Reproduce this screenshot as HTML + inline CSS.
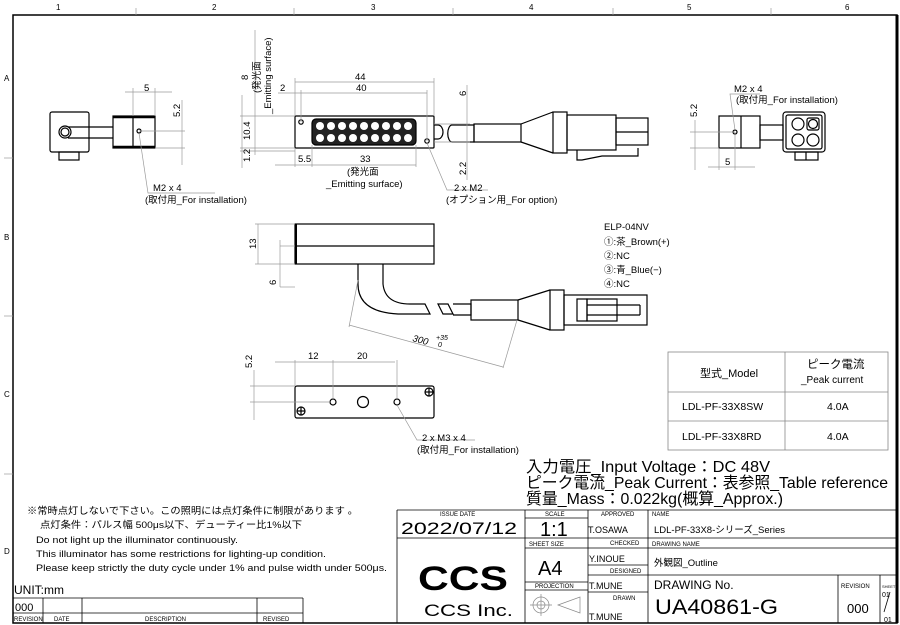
<!DOCTYPE html>
<html><head><meta charset="utf-8"><style>
html,body{margin:0;padding:0;background:#fff;width:900px;height:625px;overflow:hidden}
svg{display:block}
text{font-family:"Liberation Sans","Noto Sans CJK JP",sans-serif;fill:#000}
.d{stroke:#9a9a9a;stroke-width:.7;fill:none}
.k{stroke:#000;stroke-width:1.2;fill:none}
.t{font-size:9.5px}
</style></head><body>
<svg width="900" height="625" viewBox="0 0 900 625" xmlns="http://www.w3.org/2000/svg">
<!-- frame -->
<rect x="13" y="15" width="884" height="608" fill="none" stroke="#000" stroke-width="1.5"/>
<line x1="897" y1="15" x2="897" y2="623" stroke="#000" stroke-width="3"/>
<g class="d"><line x1="136" y1="8" x2="136" y2="15"/><line x1="294" y1="8" x2="294" y2="15"/><line x1="453" y1="8" x2="453" y2="15"/><line x1="613" y1="8" x2="613" y2="15"/><line x1="771" y1="8" x2="771" y2="15"/>
<line x1="4" y1="158" x2="13" y2="158"/><line x1="4" y1="316" x2="13" y2="316"/><line x1="4" y1="474" x2="13" y2="474"/></g>
<g style="font-size:8px"><text x="56" y="10">1</text><text x="212" y="10">2</text><text x="371" y="10">3</text><text x="529" y="10">4</text><text x="687" y="10">5</text><text x="845" y="10">6</text>
<text x="4" y="81">A</text><text x="4" y="240">B</text><text x="4" y="397">C</text><text x="4" y="554">D</text></g>

<!-- left end view -->
<g class="k">
<rect x="50" y="112" width="39" height="40" rx="2"/>
<rect x="59" y="152" width="20" height="8"/>
<circle cx="65" cy="132" r="6"/><circle cx="65" cy="132" r="4"/>
<line x1="68" y1="127" x2="113" y2="127"/><line x1="68" y1="138" x2="113" y2="138"/>
<rect x="113" y="116" width="42" height="32"/><line x1="133" y1="116" x2="133" y2="148"/>
<line x1="113" y1="117" x2="155" y2="117" stroke-width="2.5"/><line x1="113" y1="147" x2="155" y2="147" stroke-width="2.5"/>
<circle cx="139" cy="131" r="2"/>
</g>
<g class="d"><line x1="133" y1="88" x2="133" y2="116"/><line x1="155" y1="88" x2="155" y2="116"/><line x1="125" y1="92" x2="172" y2="92"/>
<line x1="139" y1="131" x2="185" y2="131"/><line x1="155" y1="148" x2="185" y2="148"/><line x1="182" y1="100" x2="182" y2="165"/>
<polyline points="139,133 148,193 215,193"/></g>
<text x="144" y="91" class="t">5</text>
<text x="0" y="0" class="t" transform="translate(180,117) rotate(-90)">5.2</text>
<text x="153" y="191" class="t">M2 x 4</text>
<text x="145" y="203" class="t">(取付用_For installation)</text>

<!-- main top view -->
<g class="k">
<rect x="295" y="116" width="139" height="32" rx="1"/>
<rect x="312" y="119" width="104" height="26" rx="4" fill="#222"/>
<circle cx="301" cy="122" r="2.2"/><circle cx="427" cy="141" r="2.2"/>
</g>
<g fill="#fff" stroke="none">
<circle cx="320" cy="126" r="4"/><circle cx="331" cy="126" r="4"/><circle cx="342" cy="126" r="4"/><circle cx="353" cy="126" r="4"/><circle cx="364" cy="126" r="4"/><circle cx="375" cy="126" r="4"/><circle cx="386" cy="126" r="4"/><circle cx="397" cy="126" r="4"/><circle cx="408" cy="126" r="4"/>
<circle cx="320" cy="138" r="4"/><circle cx="331" cy="138" r="4"/><circle cx="342" cy="138" r="4"/><circle cx="353" cy="138" r="4"/><circle cx="364" cy="138" r="4"/><circle cx="375" cy="138" r="4"/><circle cx="386" cy="138" r="4"/><circle cx="397" cy="138" r="4"/><circle cx="408" cy="138" r="4"/>
</g>
<g class="k">
<path d="M434,125 h4 a5,7 0 0 1 0,14 h-4"/>
<path d="M452,125 h22 v17 h-22 a4,8 0 0 1 0,-17z"/>
<rect x="474" y="124" width="47" height="18"/>
<path d="M521,124 L553,112 M521,142 L553,153"/>
<rect x="553" y="112" width="14" height="41"/>
<rect x="567" y="115" width="49" height="35"/>
<rect x="616" y="118" width="32" height="27"/><line x1="616" y1="132" x2="648" y2="132"/>
<path d="M577,150 v10 h5 l20,-4 h36 v-8"/>
</g>
<g class="d">
<line x1="295" y1="78" x2="295" y2="116"/><line x1="434" y1="78" x2="434" y2="116"/><line x1="295" y1="82" x2="434" y2="82"/>
<line x1="301" y1="90" x2="301" y2="122"/><line x1="427" y1="90" x2="427" y2="141"/><line x1="278" y1="93" x2="427" y2="93"/>
<line x1="255" y1="30" x2="255" y2="155"/>
<line x1="240" y1="116" x2="295" y2="116"/><line x1="240" y1="148" x2="295" y2="148"/><line x1="242" y1="95" x2="242" y2="168"/>
<line x1="240" y1="151" x2="295" y2="151"/>
<line x1="295" y1="148" x2="295" y2="167"/><line x1="312" y1="145" x2="312" y2="167"/><line x1="416" y1="145" x2="416" y2="167"/><line x1="275" y1="165" x2="416" y2="165"/>
<line x1="467" y1="85" x2="467" y2="180"/><line x1="434" y1="124" x2="470" y2="124"/><line x1="434" y1="142" x2="470" y2="142"/>
<polyline points="427,143 447,190 488,190"/></g>
<text x="355" y="80" class="t">44</text><text x="356" y="91" class="t">40</text><text x="280" y="91" class="t">2</text>
<text x="298" y="162" class="t">5.5</text><text x="360" y="162" class="t">33</text>
<text x="347" y="175" class="t">(発光面</text><text x="326" y="187" class="t">_Emitting surface)</text>
<text class="t" transform="translate(250,140) rotate(-90)">10.4</text>
<text class="t" transform="translate(250,162) rotate(-90)">1.2</text>
<text class="t" transform="translate(248,80) rotate(-90)">8</text>
<text class="t" transform="translate(260,93) rotate(-90)">(発光面</text>
<text class="t" transform="translate(271,114) rotate(-90)">_Emitting surface)</text>
<text class="t" transform="translate(466,96) rotate(-90)">6</text>
<text class="t" transform="translate(466,175) rotate(-90)">2.2</text>
<text x="454" y="191" class="t">2 x M2</text>
<text x="446" y="203" class="t">(オプション用_For option)</text>

<!-- right end view -->
<g class="k">
<rect x="719" y="116" width="41" height="32"/><line x1="741" y1="116" x2="741" y2="148"/>
<circle cx="735" cy="132" r="2"/>
<rect x="760" y="125" width="23" height="15"/>
<rect x="783" y="112" width="42" height="40" rx="3"/><rect x="786" y="115" width="36" height="34" rx="2"/>
<rect x="795" y="152" width="23" height="8"/><line x1="806" y1="152" x2="806" y2="160"/>
<circle cx="798" cy="124" r="6"/><rect x="807" y="118" width="12" height="12" rx="2"/><circle cx="813" cy="124" r="4.5"/>
<circle cx="798" cy="140" r="6"/><circle cx="813" cy="140" r="6"/>
</g>
<g class="d"><line x1="690" y1="132" x2="735" y2="132"/><line x1="690" y1="148" x2="719" y2="148"/><line x1="695" y1="120" x2="695" y2="170"/>
<line x1="719" y1="148" x2="719" y2="170"/><line x1="735" y1="132" x2="735" y2="170"/><line x1="708" y1="167" x2="755" y2="167"/>
<polyline points="735,130 730,94 760,94"/></g>
<text class="t" transform="translate(697,117) rotate(-90)">5.2</text>
<text x="725" y="165" class="t">5</text>
<text x="734" y="92" class="t">M2 x 4</text>
<text x="736" y="103" class="t">(取付用_For installation)</text>

<!-- side view -->
<g class="k">
<rect x="295" y="224" width="139" height="40"/><line x1="295" y1="246" x2="434" y2="246"/>
<line x1="296" y1="224" x2="296" y2="264" stroke-width="2"/>
<path d="M358,264 v20 q0,28 40,30 h32 l-5,-10 h-15 q-25,0 -27,-20 v-20"/>
<path d="M438,304 h10 l5,10 h-10z"/>
<path d="M453,304 h18 v11 h-18"/>
<rect x="471" y="300" width="47" height="20"/>
<path d="M518,300 L550,290 M518,320 L550,330"/>
<rect x="550" y="290" width="14" height="40"/>
<rect x="564" y="295" width="83" height="30"/>
<rect x="577" y="299" width="10" height="22"/><rect x="587" y="299" width="30" height="22"/>
<line x1="587" y1="305" x2="640" y2="305"/><line x1="587" y1="315" x2="640" y2="315"/><line x1="640" y1="305" x2="640" y2="315"/>
</g>
<g class="d"><line x1="255" y1="224" x2="295" y2="224"/><line x1="255" y1="264" x2="295" y2="264"/><line x1="258" y1="224" x2="258" y2="264"/>
<line x1="280" y1="246" x2="295" y2="246"/><line x1="280" y1="287" x2="295" y2="287"/><line x1="280" y1="240" x2="280" y2="287"/>
<line x1="349" y1="325" x2="503" y2="367"/><line x1="358" y1="280" x2="349" y2="327"/><line x1="517" y1="320" x2="503" y2="368"/></g>
<text class="t" transform="translate(256,249) rotate(-90)">13</text>
<text class="t" transform="translate(276,285) rotate(-90)">6</text>
<text x="412" y="341" class="t" font-style="italic" transform="rotate(15 412 341)">300</text>
<text x="436" y="340" style="font-size:7px;font-style:italic">+35</text><text x="438" y="347" style="font-size:7px;font-style:italic">0</text>

<text x="604" y="230" class="t">ELP-04NV</text>
<text x="604" y="245" class="t">①:茶_Brown(+)</text>
<text x="604" y="259" class="t">②:NC</text>
<text x="604" y="273" class="t">③:青_Blue(−)</text>
<text x="604" y="287" class="t">④:NC</text>

<!-- bottom view -->
<g class="k">
<rect x="295" y="386" width="139" height="32" rx="2"/>
<circle cx="333" cy="402" r="3"/><circle cx="363" cy="402" r="5.5"/><circle cx="397" cy="402" r="3"/>
<circle cx="301" cy="411" r="4"/><line x1="297" y1="411" x2="305" y2="411"/><line x1="301" y1="407" x2="301" y2="415"/>
<circle cx="429" cy="392" r="4"/><line x1="425" y1="392" x2="433" y2="392"/><line x1="429" y1="388" x2="429" y2="396"/>
</g>
<g class="d"><line x1="275" y1="362" x2="395" y2="362"/><line x1="295" y1="360" x2="295" y2="386"/><line x1="333" y1="360" x2="333" y2="399"/><line x1="397" y1="360" x2="397" y2="399"/>
<line x1="250" y1="386" x2="295" y2="386"/><line x1="250" y1="402" x2="330" y2="402"/><line x1="254" y1="370" x2="254" y2="420"/>
<polyline points="397,405 417,440 475,440"/></g>
<text x="308" y="359" class="t">12</text><text x="357" y="359" class="t">20</text>
<text class="t" transform="translate(252,368) rotate(-90)">5.2</text>
<text x="422" y="441" class="t">2 x M3 x 4</text>
<text x="417" y="453" class="t">(取付用_For installation)</text>

<!-- table -->
<g stroke="#888" stroke-width=".8" fill="none"><rect x="668" y="352" width="220" height="98"/>
<line x1="785" y1="352" x2="785" y2="450"/><line x1="668" y1="392" x2="888" y2="392"/><line x1="668" y1="421" x2="888" y2="421"/></g>
<text x="700" y="377" style="font-size:11px">型式_Model</text>
<text x="807" y="368" style="font-size:11.5px">ピーク電流</text>
<text x="801" y="383" style="font-size:10px">_Peak current</text>
<text x="682" y="410" style="font-size:10.5px">LDL-PF-33X8SW</text><text x="827" y="410" style="font-size:10.5px">4.0A</text>
<text x="682" y="440" style="font-size:10.5px">LDL-PF-33X8RD</text><text x="827" y="440" style="font-size:10.5px">4.0A</text>

<text x="526" y="472" style="font-size:16px" textLength="244" lengthAdjust="spacingAndGlyphs">入力電圧_Input Voltage：DC 48V</text>
<text x="526" y="488" style="font-size:16px" textLength="362" lengthAdjust="spacingAndGlyphs">ピーク電流_Peak Current：表参照_Table reference</text>
<text x="526" y="504" style="font-size:16px" textLength="257" lengthAdjust="spacingAndGlyphs">質量_Mass：0.022kg(概算_Approx.)</text>

<!-- notes -->
<g class="t" style="font-size:9.5px">
<text x="27" y="514" textLength="331" lengthAdjust="spacingAndGlyphs">※常時点灯しないで下さい。この照明には点灯条件に制限があります 。</text>
<text x="40" y="528" textLength="262" lengthAdjust="spacingAndGlyphs">点灯条件：パルス幅 500μs以下、デューティー比1%以下</text>
<text x="36" y="543" textLength="202" lengthAdjust="spacingAndGlyphs">Do not light up the illuminator continuously.</text>
<text x="36" y="557" textLength="290" lengthAdjust="spacingAndGlyphs">This illuminator has some restrictions for lighting-up condition.</text>
<text x="36" y="571" textLength="351" lengthAdjust="spacingAndGlyphs">Please keep strictly the duty cycle under 1% and pulse width under 500μs.</text></g>
<text x="14" y="594" style="font-size:12px">UNIT:mm</text>
<g stroke="#000" stroke-width=".8" fill="none">
<line x1="13" y1="598" x2="303" y2="598"/><line x1="13" y1="613" x2="303" y2="613"/><line x1="303" y1="598" x2="303" y2="623"/>
<line x1="43" y1="598" x2="43" y2="623"/><line x1="82" y1="598" x2="82" y2="623"/><line x1="257" y1="598" x2="257" y2="623"/></g>
<text x="15" y="611" style="font-size:11px">000</text>
<g style="font-size:6px"><text x="14" y="621">REVISION</text><text x="54" y="621">DATE</text><text x="145" y="621">DESCRIPTION</text><text x="263" y="621">REVISED</text></g>

<!-- title block -->
<g stroke="#000" stroke-width=".8" fill="none">
<line x1="397" y1="510" x2="897" y2="510"/><line x1="397" y1="510" x2="397" y2="623"/>
<line x1="525" y1="510" x2="525" y2="623"/><line x1="588" y1="510" x2="588" y2="623"/><line x1="648" y1="510" x2="648" y2="623"/>
<line x1="397" y1="538" x2="897" y2="538"/><line x1="525" y1="548" x2="897" y2="548"/>
<line x1="588" y1="565" x2="648" y2="565"/><line x1="588" y1="575" x2="897" y2="575"/><line x1="525" y1="582" x2="588" y2="582"/>
<line x1="588" y1="592" x2="648" y2="592"/><line x1="838" y1="575" x2="838" y2="623"/><line x1="880" y1="575" x2="880" y2="623"/>
<line x1="525" y1="518" x2="588" y2="518"/><line x1="525" y1="590" x2="588" y2="590"/>
<line x1="884" y1="612" x2="890" y2="592"/>
</g>
<g style="font-size:6px"><text x="440" y="516">ISSUE DATE</text><text x="545" y="516">SCALE</text><text x="601" y="516">APPROVED</text><text x="652" y="516">NAME</text>
<text x="529" y="546">SHEET   SIZE</text><text x="610" y="545">CHECKED</text><text x="652" y="546">DRAWING NAME</text>
<text x="610" y="573">DESIGNED</text><text x="535" y="588">PROJECTION</text><text x="613" y="600">DRAWN</text><text x="841" y="588">REVISION</text><text x="882" y="588" style="font-size:4px">SHEET</text></g>
<text x="401" y="534" style="font-size:17px" textLength="116" lengthAdjust="spacingAndGlyphs">2022/07/12</text>
<text x="540" y="536" style="font-size:20px">1:1</text>
<text x="588" y="533" style="font-size:9px">T.OSAWA</text>
<text x="654" y="533" style="font-size:9.5px">LDL-PF-33X8-シリーズ_Series</text>
<text x="538" y="575" style="font-size:20px">A4</text>
<text x="589" y="562" style="font-size:9px">Y.INOUE</text>
<text x="654" y="566" style="font-size:9.5px">外観図_Outline</text>
<text x="589" y="589" style="font-size:9px">T.MUNE</text>
<text x="589" y="620" style="font-size:9px">T.MUNE</text>
<text x="654" y="589" style="font-size:12px">DRAWING No.</text>
<text x="655" y="614" style="font-size:21px" textLength="123" lengthAdjust="spacingAndGlyphs">UA40861-G</text>
<text x="847" y="613" style="font-size:13px">000</text>
<text x="882" y="597" style="font-size:7px">01</text><text x="884" y="622" style="font-size:7px">01</text>
<text x="418" y="590" style="font-size:34px;font-weight:bold" textLength="90" lengthAdjust="spacingAndGlyphs">CCS</text>
<text x="424" y="616" style="font-size:17px" textLength="89" lengthAdjust="spacingAndGlyphs">CCS Inc.</text>
<g stroke="#888" stroke-width=".7" fill="none"><circle cx="541" cy="605" r="8"/><circle cx="541" cy="605" r="4"/><line x1="530" y1="605" x2="552" y2="605"/><line x1="541" y1="594" x2="541" y2="616"/>
<path d="M558,605 L580,597 V613 Z"/></g>
</svg>
</body></html>
